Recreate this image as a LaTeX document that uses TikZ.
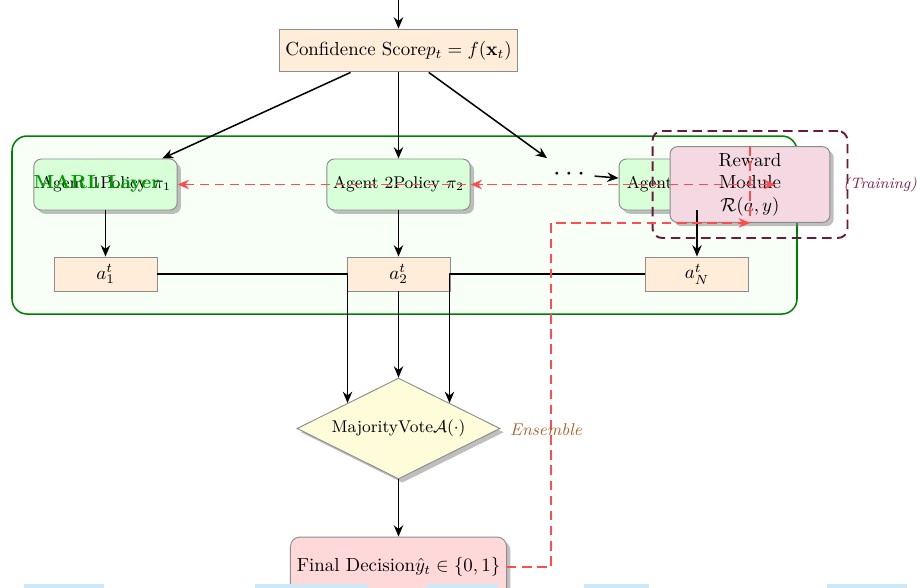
\documentclass[tikz,border=0pt]{standalone}
\usetikzlibrary{arrows.meta,shapes.geometric,shadows,fit,calc}
\definecolor{maroonc}{RGB}{110,25,60}
\definecolor{trainc}{RGB}{130,30,75}
\definecolor{ensc}{RGB}{175,100,40}
\definecolor{stripc}{RGB}{205,232,246}
\begin{document}
\begin{tikzpicture}[x=0.529pt,y=-0.529pt,
  box/.style={draw=black!45, line width=0.5pt},
  shad/.style={drop shadow={opacity=0.5, shadow xshift=2pt, shadow yshift=-2pt}},
  tip/.style={-{Stealth[length=6pt,width=5pt,inset=2pt]}},
  conn/.style={thick, tip},
  fb/.style={draw=red!70, thick, dash pattern=on 5pt off 3pt},
  agentbox/.style={box, shad, fill=green!15, rounded corners=4pt, minimum width=74.6pt, minimum height=27pt, font=\small},
  actbox/.style={box, fill=orange!15, minimum width=54.5pt, minimum height=18pt},
]
\useasboundingbox (0,0) rectangle (917,587);

% MARL layer container
\draw[draw=green!50!black, fill=green!3, thick, rounded corners=8pt] (12,136) rectangle (797,314);

% top input
\coordinate (input) at (398.5,-4);
\node[box, fill=orange!15, minimum width=124.8pt, minimum height=22.7pt] (conf) at (398.5,50.5)
  {Confidence Score$p_t = f(\mathbf{x}_t)$};

% agents
\node[agentbox] (agent1) at (105.5,184.5) {Agent 1Policy $\pi_1$};
\node[agentbox] (agent2) at (398.5,184.5) {Agent 2Policy $\pi_2$};
\node[agentbox, minimum width=82.5pt] (agentN) at (697,184.5) {Agent NPolicy $\pi_N$};
\node[font=\Large, inner sep=5pt] (dots) at (569,174) {$\cdots$};

% actions
\node[actbox] (a1) at (105.5,274) {$a_1^t$};
\node[actbox] (a2) at (398.5,274) {$a_2^t$};
\node[actbox] (aN) at (697,274) {$a_N^t$};

% reward module
\node[box, shad, fill=purple!15, rounded corners=4pt, minimum width=84.6pt, minimum height=39.7pt, align=center] (reward) at (750,184.5)
  {Reward\\Module\\$\mathcal{R}(a,y)$};
\node[fit=(reward), inner xsep=9pt, inner ysep=8pt, draw=maroonc, line width=1pt, dash pattern=on 5pt off 3pt, rounded corners=5pt] (trainbox) {};

% vote and decision
\node[diamond, aspect=2, box, shad, fill=yellow!15, inner sep=1pt, minimum width=107.4pt, minimum height=53.4pt, font=\small] (vote) at (398.5,428.5)
  {MajorityVote$\mathcal{A}(\cdot)$};
\node[box, shad, fill=red!15, rounded corners=5pt, minimum width=112.7pt, minimum height=31.7pt] (final) at (398.5,567)
  {Final Decision$\hat{y}_t \in \{0,1\}$};

% connectors
\draw[conn] (input) -- (conf);
\draw[conn] (conf) -- (agent1);
\draw[conn] (conf) -- (agent2);
\draw[conn] (conf) -- (dots);
\draw[conn] (dots) -- (agentN);
\draw[conn] (agent1) -- (a1);
\draw[conn] (agent2) -- (a2);
\draw[conn] (agentN.south) -- (aN);
\draw[conn] (a1.east) -| (vote.north west);
\draw[conn] (a2) -- (vote);
\draw[conn] (aN.west) -| (vote.north east);
\draw[conn] (vote) -- (final);

% feedback
\draw[fb, tip] (final.east) -- ++(44,0) |- (reward.south);
\draw[fb] (reward.north) -- (reward.south);
\draw[fb, {Stealth[length=6pt,width=5pt,inset=2pt]}-{Stealth[length=6pt,width=5pt,inset=2pt]}] (agent1.east) -- (agentN.east);
\draw[fb, tip] ($(agent2.east)+(12,0)$) -- (agent2.east);

% labels
\node[font=\bfseries, text=green!60!black] (marl) at (97,184) {MARL Layer};
\node[font=\small\itshape, text=ensc] (ens) at (546,430) {Ensemble};
\node[font=\footnotesize\itshape, text=trainc, anchor=west, inner sep=0pt] (train) at (843,184.5) {(Training)};

% cut-off elements at the bottom edge
\fill[stripc] (24,584) rectangle (104,592);
\fill[stripc] (255,584) rectangle (368,592);
\fill[stripc] (427,584) rectangle (498,592);
\fill[stripc] (584,584) rectangle (649,592);
\fill[stripc] (827,584) rectangle (907,592);
\end{tikzpicture}
\end{document}
